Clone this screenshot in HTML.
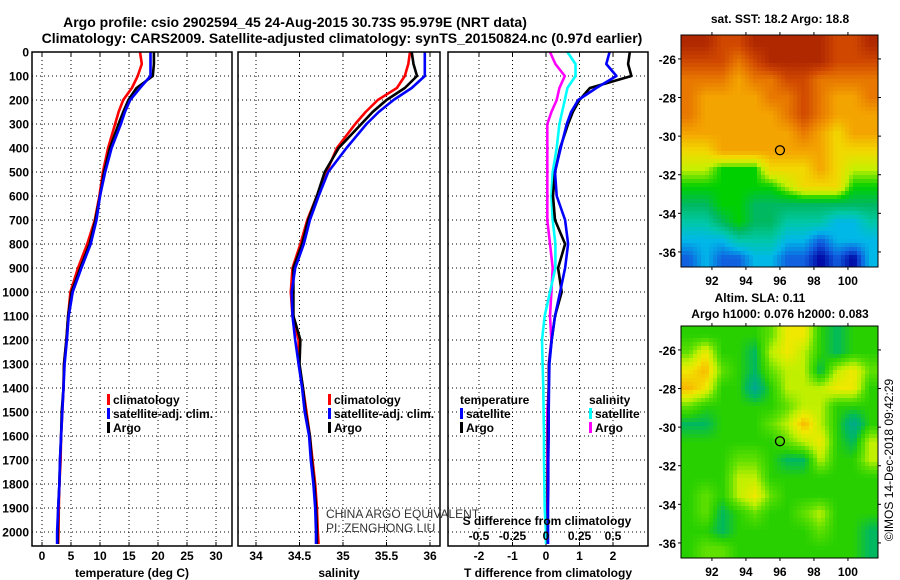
<!DOCTYPE html>
<html><head><meta charset="utf-8"><style>
body{margin:0;background:#fff}
svg{display:block;font-family:"Liberation Sans",sans-serif}
.b{font-weight:bold}
</style></head><body>
<svg id="svg" width="900" height="580" viewBox="0 0 900 580">
<g id="titles">
<text x="295" y="27" text-anchor="middle" class="b" font-size="14">Argo profile: csio 2902594_45 24-Aug-2015 30.73S 95.979E (NRT data)</text>
<text x="342" y="43" text-anchor="middle" class="b" font-size="14">Climatology: CARS2009. Satellite-adjusted climatology: synTS_20150824.nc (0.97d earlier)</text>
</g>
<g id="plots"></g>
<g id="maps"></g>
<text x="0" y="0" transform="translate(893,460) rotate(-90)" text-anchor="middle" font-size="12">©IMOS 14-Dec-2018 09:42:29</text>
</svg>
<script>
// ---------- data ----------
const depths=[0,50,100,150,200,250,300,400,500,600,700,800,900,1000,1100,1200,1300,1400,1500,1600,1700,1800,1900,2000,2050];
const tempArgo=[19.3,19.3,19.1,16.3,14.9,14.0,13.2,11.7,10.7,10.0,9.2,8.2,6.6,5.1,4.5,4.2,3.8,3.7,3.4,3.3,3.1,3.0,2.8,2.7,2.7];
const tempSat=[18.7,18.7,18.7,16.9,15.2,14.3,13.6,12.0,10.9,10.0,9.4,8.4,6.8,5.3,4.6,4.3,3.9,3.7,3.5,3.3,3.1,3.0,2.8,2.6,2.6];
const tempClim=[16.9,17.2,16.5,15.5,14.0,13.2,12.6,11.4,10.5,9.9,9.1,7.8,6.2,4.9,4.5,4.2,3.8,3.7,3.5,3.3,3.2,3.0,2.9,2.85,2.8];
const salArgo=[35.79,35.81,35.85,35.71,35.50,35.34,35.21,34.95,34.79,34.70,34.60,34.53,34.43,34.43,34.43,34.51,34.50,34.54,34.57,34.62,34.64,34.67,34.69,34.70,34.70];
const salSat=[35.94,35.94,35.94,35.79,35.58,35.41,35.27,35.04,34.83,34.72,34.62,34.55,34.45,34.41,34.42,34.45,34.49,34.53,34.56,34.61,34.63,34.66,34.68,34.69,34.69];
const salClim=[35.77,35.75,35.71,35.62,35.40,35.26,35.14,34.93,34.81,34.70,34.59,34.51,34.42,34.40,34.42,34.49,34.49,34.54,34.58,34.62,34.65,34.68,34.70,34.71,34.72];
const dTArgo=[2.5,2.45,2.55,1.31,1.0,0.8,0.66,0.42,0.27,0.21,0.27,0.57,0.36,0.47,0.27,0.17,0.09,0.08,0.07,0.06,0.06,0.05,0.05,0.05,0.05];
const dTSat=[1.9,1.8,2.1,1.5,0.96,0.75,0.62,0.44,0.27,0.32,0.57,0.66,0.57,0.42,0.27,0.17,0.1,0.09,0.08,0.08,0.07,0.07,0.06,0.06,0.06];
const dSSat=[0.16,0.22,0.22,0.16,0.14,0.12,0.10,0.08,0.05,0.04,0.05,0.07,0.07,0.03,-0.01,-0.03,-0.025,-0.02,-0.018,-0.015,-0.015,-0.012,-0.01,0,0];
const dSArgo=[0.03,0.07,0.14,0.10,0.08,0.04,0.01,0.01,0.01,0.01,0.01,0.03,0.05,0.04,0.03,0.04,0.02,0.02,0.01,0.01,0.01,0.01,0.01,0.01,0.01];
const depthTicks=[0,100,200,300,400,500,600,700,800,900,1000,1100,1200,1300,1400,1500,1600,1700,1800,1900,2000];
const tempTicks=[0,5,10,15,20,25,30];
const salTicks=[34,34.5,35,35.5,36];
const dTTicks=[-2,-1,0,1,2];
const dSTicks=[-0.5,-0.25,0,0.25,0.5];
const dSTickLabels=["-0.5","-0.25","0","0.25","0.5"];
// SST map levels (0 warm/brown .. 11 cold/dark blue), rows north->south
const sstGrid=[
[0,0,1,1,0,0,0,0,0,1,1,0],[1,1,1,2,1,0,0,0,0,1,1,1],[2,2,2,3,2,2,1,1,2,2,2,2],
[2,3,3,3,3,2,2,1,2,3,3,2],[2,3,3,3,3,3,2,1,2,3,3,3],[3,3,3,3,3,3,3,2,3,4,3,3],
[4,4,3,3,3,3,3,3,3,4,4,4],[5,5,6,6,6,4,4,4,3,4,5,5],[6,6,6,6,6,6,5,4,4,4,6,6],
[7,7,6,6,7,7,7,7,7,7,7,7],[8,8,7,6,7,7,8,8,8,9,9,8],[9,9,9,8,8,8,9,9,10,9,9,9],
[10,9,10,10,9,9,10,10,11,10,11,9]];
// SLA levels (0 low/teal .. 6 high/orange)
const slaGrid=[
[2,2,2,2,2,3,5,5,2,1,2,2],[3,5,2,2,1,4,5,4,2,1,2,2],[5,6,3,2,1,3,4,4,1,4,5,3],
[6,5,2,2,0,2,4,4,4,5,5,2],[3,2,2,2,2,2,3,4,4,2,2,2],[1,1,2,2,2,3,4,6,4,2,0,2],
[2,2,2,2,2,2,3,4,5,2,1,4],[2,2,2,3,3,2,1,1,4,2,2,4],[2,2,2,4,4,2,2,2,2,2,2,2],
[2,3,2,4,5,3,2,2,2,2,2,2],[2,3,1,2,3,2,2,3,4,2,2,2],[2,2,1,2,2,2,2,2,3,2,2,1],
[2,3,3,2,2,2,2,2,2,2,2,1]];
const lonTicks=[92,94,96,98,100];
const latTicks=[-26,-28,-30,-32,-34,-36];
const argoLon=96, argoLat=-30.73;

const NS="http://www.w3.org/2000/svg";
function mk(tag,attrs,parent,txt){const e=document.createElementNS(NS,tag);for(const k in attrs)e.setAttribute(k,attrs[k]);if(txt!==undefined)e.textContent=txt;parent.appendChild(e);return e;}
const plots=document.getElementById('plots');
const yD=d=>52+d*0.24;
const TOP=52,BOT=546;

function panel(name,x0,x1,xScale,ticks,tickLabels,gridTicks,xTitle,series){
  const g=mk('g',{},plots);
  
  
  depthTicks.forEach(d=>{const l=mk('line',{x1:x0,x2:x1,y1:yD(d),y2:yD(d),stroke:'#000','stroke-width':1,'stroke-dasharray':'1,3'},g);});
  gridTicks.forEach(t=>{const l=mk('line',{x1:xScale(t),x2:xScale(t),y1:TOP,y2:BOT,stroke:'#000','stroke-width':1,'stroke-dasharray':'1,3'},g);});
  ticks.forEach((t,i)=>{const tx=mk('text',{x:xScale(t),y:560,'text-anchor':'middle','font-size':12,'font-weight':'bold'},g,tickLabels[i]);
    mk('line',{x1:xScale(t),x2:xScale(t),y1:BOT,y2:BOT-4,stroke:'#000'},g);mk('line',{x1:xScale(t),x2:xScale(t),y1:TOP,y2:TOP+4,stroke:'#000'},g);});
  const tt=mk('text',{x:(x0+x1)/2,y:577,'text-anchor':'middle','font-size':12,'font-weight':'bold'},g,xTitle);
  
  series.forEach(s=>{const sc=s.sc||xScale;const pts=depths.map((d,i)=>sc(s.v[i]).toFixed(1)+','+yD(d).toFixed(1)).join(' ');
    const p=mk('polyline',{points:pts,fill:'none',stroke:s.c,'stroke-width':2.6,'stroke-linejoin':'round'},g);
    });
  const box=mk('rect',{x:x0,y:TOP,width:x1-x0,height:BOT-TOP,fill:'none',stroke:'#000','stroke-width':1.5},g);
  
  return g;
}
const xT=t=>42+t*5.8, xS=s=>256+(s-34)*87, xDT=t=>546+t*33.5, xDS=s=>546+s*134;
panel('temperature-panel',32,232,xT,tempTicks,tempTicks.map(String),tempTicks,'temperature (deg C)',
 [{v:tempClim,c:'#f00',n:'temp-climatology-line'},{v:tempArgo,c:'#000',n:'temp-argo-line'},{v:tempSat,c:'#00f',n:'temp-satellite-line'}]);
panel('salinity-panel',238,440,xS,salTicks,salTicks.map(String),[34,34.5,35,35.5,36],'salinity',
 [{v:salClim,c:'#f00',n:'sal-climatology-line'},{v:salArgo,c:'#000',n:'sal-argo-line'},{v:salSat,c:'#00f',n:'sal-satellite-line'}]);
panel('difference-panel',448,648,xDT,dTTicks,dTTicks.map(String),dTTicks,'T difference from climatology',
 [{v:dSArgo,c:'#f0f',n:'sdiff-argo-line',sc:xDS},{v:dSSat,c:'#0ff',n:'sdiff-satellite-line',sc:xDS},{v:dTArgo,c:'#000',n:'tdiff-argo-line'},{v:dTSat,c:'#00f',n:'tdiff-satellite-line'}]);
depthTicks.forEach(d=>{const t=mk('text',{x:29,y:yD(d)+4.5,'text-anchor':'end','font-size':12,'font-weight':'bold'},plots,String(d));
 });
const sdt=mk('text',{x:547,y:525,'text-anchor':'middle','font-size':12,'font-weight':'bold'},plots,'S difference from climatology');

dSTicks.forEach((s,i)=>{const t=mk('text',{x:xDS(s),y:540,'text-anchor':'middle','font-size':12,'font-weight':'bold'},plots,dSTickLabels[i]);
 });
function legend(name,x,y,items){const g=mk('g',{},plots);
 items.forEach((it,i)=>{const yy=y+i*14;if(it.c){mk('rect',{x:x,y:yy-10,width:3,height:11,fill:it.c},g);}
  const t=mk('text',{x:x+(it.c?6:0),y:yy,'font-size':12,'font-weight':'bold'},g,it.t);});}
legend('temperature-legend',107,404,[{c:'#f00',t:'climatology'},{c:'#00f',t:'satellite-adj. clim.'},{c:'#000',t:'Argo'}]);
legend('salinity-legend',328,404,[{c:'#f00',t:'climatology'},{c:'#00f',t:'satellite-adj. clim.'},{c:'#000',t:'Argo'}]);
legend('difference-legend-t',460,404,[{t:'temperature'},{c:'#00f',t:'satellite'},{c:'#000',t:'Argo'}]);
legend('difference-legend-s',589,404,[{t:'salinity'},{c:'#0ff',t:'satellite'},{c:'#f0f',t:'Argo'}]);
const ca=mk('g',{fill:'#333','font-size':12},plots);
mk('text',{x:326,y:518},ca,'CHINA ARGO EQUIVALENT');mk('text',{x:326,y:532},ca,'PI: ZENGHONG LIU');

// ---------- maps ----------
const maps=document.getElementById('maps');
const sstStops=['#b02800','#d04800','#e87800','#f4a400','#f2d800','#c8f000','#00d000','#00b860','#00c8a8','#00b8e8','#1060e0','#0000a0'];
const slaStops=['#00a890','#00b860','#28d000','#60e000','#c0f000','#f0e800','#f8b800'];
function hex(c){return [1,3,5].map(i=>parseInt(c.substr(i,2),16));}
function colorAt(stops,v){v=Math.max(0,Math.min(stops.length-1,v));const i=Math.min(stops.length-2,Math.floor(v)),f=v-i;
 const a=hex(stops[i]),b=hex(stops[i+1]);return 'rgb('+a.map((x,k)=>Math.round(x+(b[k]-x)*f)).join(',')+')';}
function sample(grid,fx,fy){const R=grid.length,C=grid[0].length;
 const gx=Math.max(0,Math.min(C-1,fx*C-0.5)),gy=Math.max(0,Math.min(R-1,fy*R-0.5));
 const x0=Math.floor(gx),y0=Math.floor(gy),x1=Math.min(C-1,x0+1),y1=Math.min(R-1,y0+1),tx=gx-x0,ty=gy-y0;
 return (grid[y0][x0]*(1-tx)+grid[y0][x1]*tx)*(1-ty)+(grid[y1][x0]*(1-tx)+grid[y1][x1]*tx)*ty;}
function map(name,x0,y0,x1,y1,latTop,pxPerLat,lon0,pxPerLon,grid,stops,cell,titles){
 const g=mk('g',{},maps);
 const W=x1-x0,H=y1-y0;
 for(let y=0;y<H;y+=cell)for(let x=0;x<W;x+=cell){
  const v=sample(grid,(x+cell/2)/W,(y+cell/2)/H);
  const r=mk('rect',{x:x0+x,y:y0+y,width:Math.min(cell,W-x)+0.3,height:Math.min(cell,H-y)+0.3,fill:colorAt(stops,v)},g);
  
  }
 mk('rect',{x:x0,y:y0,width:W,height:H,fill:'none',stroke:'#000','stroke-width':1},g);
 const lx=l=>x0+(l-lon0)*pxPerLon, ly=l=>y0+(latTop-l)*pxPerLat;
 lonTicks.forEach(l=>{const t=mk('text',{x:lx(l),y:y1+18,'text-anchor':'middle','font-size':12,'font-weight':'bold'},g,String(l));
  
  mk('line',{x1:lx(l),x2:lx(l),y1:y0,y2:y0-3,stroke:'#000'},g);mk('line',{x1:lx(l),x2:lx(l),y1:y1,y2:y1+3,stroke:'#000'},g);});
 latTicks.forEach(l=>{const t=mk('text',{x:x0-5,y:ly(l)+5,'text-anchor':'end','font-size':12,'font-weight':'bold'},g,String(l));
  
  mk('line',{x1:x1,x2:x1+3,y1:ly(l),y2:ly(l),stroke:'#000'},g);mk('line',{x1:x0,x2:x0-3,y1:ly(l),y2:ly(l),stroke:'#000'},g);});
 const c=mk('circle',{cx:lx(argoLon),cy:ly(argoLat),r:4.5,fill:'none',stroke:'#000','stroke-width':1.3},g);
 
 titles.forEach(tt=>{const t=mk('text',{x:tt.x,y:tt.y,'text-anchor':'middle','font-size':12,'font-weight':'bold'},g,tt.t);
  });
}
map('sst-map',681,35,878,267,-24.76,19.3,90.18,17,sstGrid,sstStops,4,[{x:780,y:23,t:'sat. SST: 18.2 Argo: 18.8'}]);
map('sla-map',681,326,878,558,-24.76,19.3,90.18,17,slaGrid,slaStops,4,[{x:760,y:302,t:'Altim. SLA: 0.11'},{x:780,y:318,t:'Argo h1000: 0.076 h2000: 0.083'}]);
</script>
</body></html>
